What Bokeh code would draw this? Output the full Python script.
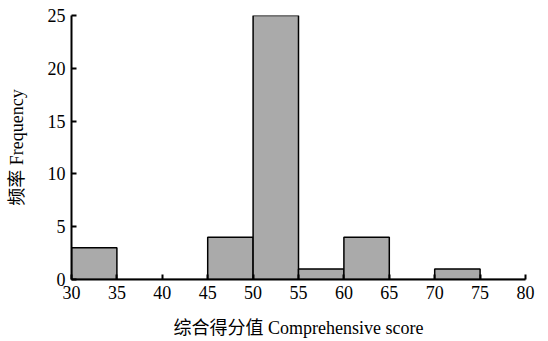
from bokeh.plotting import figure
from bokeh.models import FixedTicker, Range1d
from bokeh.embed import file_html
from bokeh.resources import INLINE

# Histogram data (bin edges and frequencies)
bin_left = [30, 35, 40, 45, 50, 55, 60, 65, 70, 75]
bin_right = [35, 40, 45, 50, 55, 60, 65, 70, 75, 80]
frequency = [3, 0, 0, 4, 25, 1, 4, 0, 1, 0]

x_ticks = [30, 35, 40, 45, 50, 55, 60, 65, 70, 75, 80]
y_ticks = [0, 5, 10, 15, 20, 25]

x_title = "综合得分值 Comprehensive score"
y_title = "频率 Frequency"

SERIF = "'Liberation Serif', 'Noto Sans CJK SC'"

p = figure(width=548, height=341, output_backend="svg", toolbar_location=None,
           x_range=Range1d(30, 80), y_range=Range1d(0, 25),
           min_border_left=71, min_border_right=23, min_border_top=15, min_border_bottom=62)

p.quad(left=bin_left, right=bin_right, bottom=0, top=frequency,
       fill_color="#aaaaaa", line_color="black", line_width=1.5)

p.outline_line_color = None
p.xgrid.grid_line_color = None
p.ygrid.grid_line_color = None

for ax in (p.xaxis[0], p.yaxis[0]):
    ax.axis_line_width = 2
    ax.axis_line_color = "black"
    ax.major_tick_in = 5
    ax.major_tick_out = 0
    ax.major_tick_line_width = 2
    ax.minor_tick_line_color = None
    ax.major_label_text_font = SERIF
    ax.major_label_text_font_size = "18px"
    ax.major_label_text_color = "black"
    ax.axis_label_text_font = SERIF
    ax.axis_label_text_font_size = "18px"
    ax.axis_label_text_font_style = "normal"
    ax.axis_label_text_color = "black"
    ax.major_label_standoff = 6

p.xaxis[0].ticker = FixedTicker(ticks=x_ticks)
p.yaxis[0].ticker = FixedTicker(ticks=y_ticks)
p.xaxis[0].axis_label = x_title
p.yaxis[0].axis_label = y_title
p.xaxis[0].axis_label_standoff = 16
p.yaxis[0].axis_label_standoff = 18

open("out.html", "w").write(file_html(p, INLINE))
